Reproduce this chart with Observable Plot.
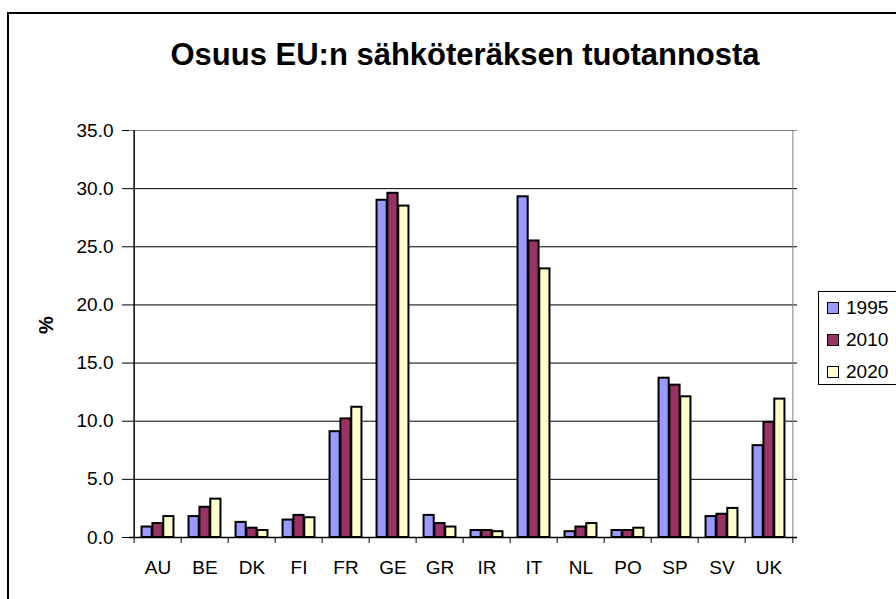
<!DOCTYPE html>
<html>
<head>
<meta charset="utf-8">
<script src="https://cdn.jsdelivr.net/npm/d3@7"></script>
<script src="https://cdn.jsdelivr.net/npm/@observablehq/plot@0.6"></script>
<style>
  html, body { margin: 0; padding: 0; background: #fff; overflow: hidden; }
  body { width: 896px; height: 599px; position: relative; font-family: "Liberation Sans", Arial, sans-serif; }
  #frame { position: absolute; left: 7px; top: 12px; width: 1000px; height: 1000px; border-left: 2px solid #000; border-top: 2px solid #000; }
  #title { position: absolute; left: 465px; top: 37px; transform: translateX(-50%); white-space: nowrap; font-size: 31px; font-weight: bold; color: #000; }
  #chart { position: absolute; left: 0; top: 0; }
  #legend { position: absolute; left: 818px; top: 291px; width: 90px; height: 92px; border: 1px solid #000; background: #fff; }
  .item { position: absolute; left: 8px; height: 20px; display: flex; align-items: center; font-size: 19px; color: #000; }
  .sw { width: 10px; height: 10px; border: 1.5px solid #000; margin-right: 7px; }
</style>
</head>
<body>
<div id="frame"></div>
<div id="chart"></div>
<div id="title">Osuus EU:n sähköteräksen tuotannosta</div>
<div id="legend"></div>
<script>
const countries = ["AU","BE","DK","FI","FR","GE","GR","IR","IT","NL","PO","SP","SV","UK"];
const years = ["1995","2010","2020"];
const v1995 = [0.9, 1.8, 1.3, 1.5, 9.1, 29.0, 1.9, 0.6, 29.3, 0.5, 0.6, 13.7, 1.8, 7.9];
const v2010 = [1.2, 2.6, 0.8, 1.9, 10.2, 29.6, 1.2, 0.6, 25.5, 0.9, 0.6, 13.1, 2.0, 9.9];
const v2020 = [1.8, 3.3, 0.6, 1.7, 11.2, 28.5, 0.9, 0.5, 23.1, 1.2, 0.8, 12.1, 2.5, 11.9];
const colors = ["#9999FF", "#993366", "#FFFFCC"];
const yTicks = [0, 5, 10, 15, 20, 25, 30, 35];
const series = [v1995, v2010, v2020];

const W = 896, H = 599, mL = 129, mR = 99, mT = 130, mB = 62;
const band = (W - mL - mR) / countries.length;
const barW = band * 0.228;
const inset = (band - barW) / 2;

const barMarks = series.map((vals, k) =>
  Plot.barY(countries.map((c, i) => ({country: c, value: vals[i], year: years[k]})), {
    x: "country", y: "value", fill: colors[k], stroke: "#000", strokeWidth: 2,
    insetLeft: inset, insetRight: inset, dx: (k - 1) * barW
  })
);

const chart = Plot.plot({
  width: W, height: H,
  marginLeft: mL, marginRight: mR, marginTop: mT, marginBottom: mB,
  style: {fontFamily: "'Liberation Sans', Arial, sans-serif", fontSize: "19px", background: "transparent", color: "#000"},
  x: {domain: countries, padding: 0},
  y: {domain: [0, 35]},
  marks: [
    Plot.ruleY(yTicks, {stroke: "#000", strokeWidth: 1}),
    Plot.ruleY([35], {stroke: "#808080", strokeWidth: 1}),
    Plot.ruleX([countries[countries.length - 1]], {dx: band / 2, stroke: "#808080", strokeWidth: 1}),
    ...barMarks,
    Plot.ruleX([countries[0]], {dx: -band / 2, stroke: "#000", strokeWidth: 1.5}),
    Plot.ruleY([0], {stroke: "#000", strokeWidth: 1.5}),
    Plot.axisY(yTicks, {tickSize: 7, tickPadding: 9, tickFormat: d => d.toFixed(1), fontSize: 19, label: null}),
    Plot.axisX({tickSize: 0, tickPadding: 23, fontSize: 19, label: null}),
    Plot.axisX({tickSize: 6, tickFormat: () => "", dx: -band / 2, label: null}),
    Plot.axisX([countries[countries.length - 1]], {tickSize: 6, tickFormat: () => "", dx: band / 2, label: null}),
    Plot.text(["%"], {frameAnchor: "left", dx: -83, rotate: -90, fontWeight: "bold", fontSize: 20})
  ]
});
document.getElementById("chart").appendChild(chart);

const legend = document.getElementById("legend");
years.forEach((y, k) => {
  const it = document.createElement("div");
  it.className = "item";
  it.style.top = (6 + k * 32) + "px";
  const sw = document.createElement("div");
  sw.className = "sw";
  sw.style.background = colors[k];
  it.appendChild(sw);
  it.appendChild(document.createTextNode(y));
  legend.appendChild(it);
});
</script>
</body>
</html>
